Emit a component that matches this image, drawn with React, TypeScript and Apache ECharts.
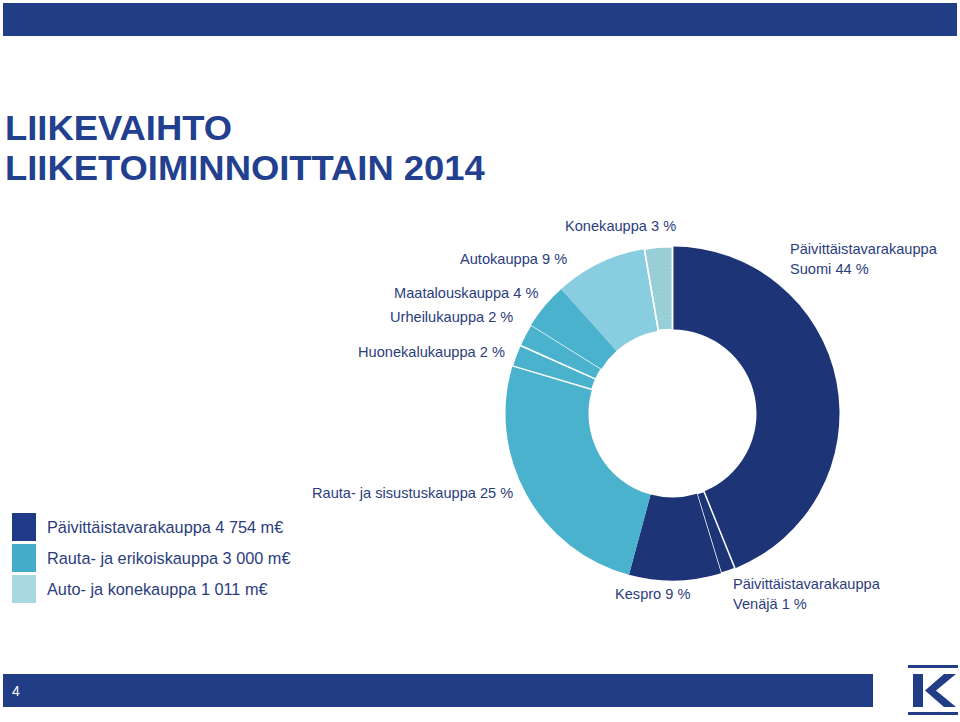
import React, { useEffect, useRef } from "react";
import * as echarts from "echarts";

const sliceNames = [
  "Päivittäistavarakauppa Suomi",
  "Päivittäistavarakauppa Venäjä",
  "Kespro",
  "Rauta- ja sisustuskauppa",
  "Huonekalukauppa",
  "Urheilukauppa",
  "Maatalouskauppa",
  "Autokauppa",
  "Konekauppa",
];
// shares as drawn (angles), and the rounded percentages shown in the labels
const sliceShares = [43.9, 1.4, 8.9, 25.4, 2.1, 2.2, 4.5, 8.9, 2.7];
const labelPercents = [44, 1, 9, 25, 2, 2, 4, 9, 3];
const sliceGroup = [0, 0, 0, 1, 1, 1, 1, 2, 2];

const legendNames = [
  "Päivittäistavarakauppa 4 754 m€",
  "Rauta- ja erikoiskauppa 3 000 m€",
  "Auto- ja konekauppa 1 011 m€",
];

const titleLines = ["LIIKEVAIHTO", "LIIKETOIMINNOITTAIN 2014"];

const NAVY = "#1d3577";
const CYAN = "#4bb2ce";
const LIGHT = "#88cde0";
const HATCH = "#9fd3dc";
const TEXT = "#2b3d7d";
const BAR = "#213d86";

const sliceColors = [NAVY, NAVY, NAVY, CYAN, CYAN, CYAN, CYAN, LIGHT, HATCH];
const sliceBorders = [0, 1.5, 0, 0, 1.5, 1.5, 0, 0, 1.5];
const legendColors = ["#1f3a86", "#45adc9", "#a8d8e1"];

// label anchor positions (left, vertical middle of the label block)
const labelLayout: { x: number; y: number; split: boolean }[] = [
  { x: 790, y: 259, split: true },
  { x: 733, y: 594, split: true },
  { x: 615, y: 594, split: false },
  { x: 312, y: 493, split: false },
  { x: 358, y: 352, split: false },
  { x: 390, y: 317, split: false },
  { x: 394, y: 293, split: false },
  { x: 460, y: 259, split: false },
  { x: 565, y: 226, split: false },
];

export default function App() {
  const ref = useRef<HTMLDivElement>(null);
  useEffect(() => {
    document.body.style.margin = "0";
    const chart = echarts.init(ref.current!, undefined, { renderer: "svg" });
    const graphics: any[] = [];
    graphics.push({ type: "rect", shape: { x: 3, y: 3, width: 954, height: 33 }, style: { fill: BAR } });
    const titleTops = [111, 151];
    titleLines.forEach((t, i) => {
      graphics.push({
        type: "text",
        x: 5,
        y: titleTops[i],
        scaleX: 1.04,
        style: {
          text: t,
          font: "bold 35px 'Liberation Sans', Arial, sans-serif",
          fill: "#22408f",
          textVerticalAlign: "top",
        },
      });
    });
    sliceNames.forEach((n, i) => {
      const l = labelLayout[i];
      let text: string;
      if (l.split) {
        const parts = n.split(" ");
        text = parts[0] + "\n" + parts.slice(1).join(" ") + " " + labelPercents[i] + " %";
      } else {
        text = n + " " + labelPercents[i] + " %";
      }
      graphics.push({
        type: "text",
        x: l.x,
        y: l.y,
        style: {
          text,
          font: "14.6px 'Liberation Sans', Arial, sans-serif",
          fill: TEXT,
          lineHeight: 20,
          textVerticalAlign: "middle",
        },
      });
    });
    const legendY = [513, 544, 575];
    legendNames.forEach((n, i) => {
      graphics.push({
        type: "rect",
        shape: { x: 12, y: legendY[i], width: 24, height: 28 },
        style: { fill: legendColors[i] },
      });
      graphics.push({
        type: "text",
        x: 47,
        y: legendY[i] + 14,
        style: {
          text: n,
          font: "16.3px 'Liberation Sans', Arial, sans-serif",
          fill: TEXT,
          textVerticalAlign: "middle",
        },
      });
    });
    graphics.push({ type: "rect", shape: { x: 3, y: 674, width: 870, height: 33 }, style: { fill: BAR } });
    graphics.push({
      type: "text",
      x: 12,
      y: 691,
      style: { text: "4", font: "14px 'Liberation Sans', Arial, sans-serif", fill: "#ffffff", textVerticalAlign: "middle" },
    });
    // K logo
    graphics.push({ type: "rect", shape: { x: 908, y: 665, width: 50, height: 3 }, style: { fill: BAR } });
    graphics.push({ type: "rect", shape: { x: 908, y: 712, width: 50, height: 3 }, style: { fill: BAR } });
    graphics.push({ type: "rect", shape: { x: 913, y: 674, width: 10, height: 33 }, style: { fill: BAR } });
    graphics.push({
      type: "polygon",
      shape: { points: [[944, 674], [956, 674], [936, 690.5], [956, 707], [944, 707], [925, 690.5]] },
      style: { fill: BAR },
    });

    chart.setOption({
      animation: false,
      backgroundColor: "#ffffff",
      series: [
        {
          type: "pie",
          center: [672.5, 413.5],
          radius: [84, 167],
          startAngle: 90,
          clockwise: true,
          label: { show: false },
          labelLine: { show: false },
          emphasis: { disabled: true },
          data: sliceNames.map((n, i) => ({
            name: n,
            value: sliceShares[i],
            group: sliceGroup[i],
            itemStyle: {
              color: sliceColors[i],
              borderColor: "#ffffff",
              borderWidth: sliceBorders[i],
              decal:
                i === 8
                  ? {
                      symbol: "rect",
                      symbolSize: 1,
                      color: "rgba(110,170,180,0.45)",
                      dashArrayX: [1, 1],
                      dashArrayY: [1, 1],
                      rotation: Math.PI / 4,
                    }
                  : undefined,
            },
          })),
        },
      ],
      graphic: graphics,
    });
    return () => chart.dispose();
  }, []);
  return <div ref={ref} style={{ width: 960, height: 722 }} />;
}
